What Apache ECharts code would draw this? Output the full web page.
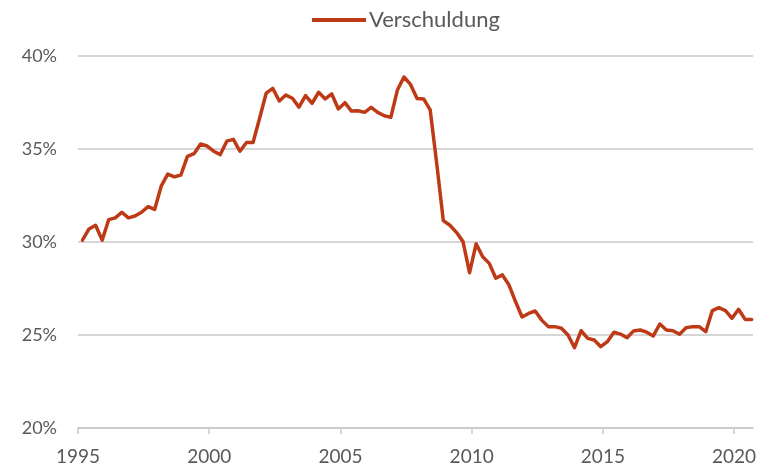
<!DOCTYPE html>
<html>
<head>
<meta charset="utf-8">
<script src="https://cdn.jsdelivr.net/npm/echarts@6/dist/echarts.min.js"></script>
<style>
  html, body { margin: 0; padding: 0; background: #ffffff; }
  #chart { width: 771px; height: 468px; }
</style>
</head>
<body>
<div id="chart"></div>
<script>
// Quarterly observations, 1995 Q1 – 2020 Q3
const quarters = [];
for (let y = 1995; y <= 2020; y++) {
  for (let q = 1; q <= 4; q++) {
    if (y === 2020 && q > 3) break;
    quarters.push(y + 'Q' + q);
  }
}

const seriesName = 'Verschuldung';
const verschuldung = [
  30.10, 30.70, 30.90, 30.10, 31.20, 31.30, 31.60, 31.30, 31.40, 31.60,
  31.90, 31.75, 33.00, 33.65, 33.50, 33.60, 34.60, 34.75, 35.27, 35.16,
  34.88, 34.70, 35.42, 35.52, 34.88, 35.35, 35.35, 36.65, 38.00, 38.26,
  37.58, 37.90, 37.73, 37.25, 37.87, 37.46, 38.05, 37.69, 37.96, 37.15,
  37.49, 37.04, 37.06, 36.97, 37.24, 36.97, 36.79, 36.70, 38.17, 38.87,
  38.47, 37.71, 37.69, 37.10, 34.20, 31.15, 30.90, 30.52, 30.02, 28.35,
  29.90, 29.21, 28.85, 28.05, 28.23, 27.70, 26.80, 25.97, 26.16, 26.29,
  25.80, 25.45, 25.45, 25.36, 25.00, 24.32, 25.23, 24.82, 24.73, 24.37,
  24.64, 25.15, 25.05, 24.85, 25.22, 25.27, 25.15, 24.95, 25.59, 25.27,
  25.23, 25.04, 25.39, 25.45, 25.45, 25.18, 26.31, 26.47, 26.31, 25.90,
  26.38, 25.84, 25.84
];

const xTickYears = [1995, 2000, 2005, 2010, 2015, 2020];

// convert quarter label to a decimal-year position on the time line
function quarterToYear(label) {
  const y = parseInt(label.slice(0, 4), 10);
  const q = parseInt(label.slice(5), 10);
  return y + (q - 1) / 4 + 0.17;
}

const seriesData = quarters.map((lab, i) => [quarterToYear(lab), verschuldung[i]]);

const FONT = 'Lato';
const LABEL_COLOR = '#595959';
const GRID_COLOR = '#C9C9C9';
const LINE_COLOR = '#BE3A17';
const LEGEND_ICON = 'path://M0,0 L54,0 L54,4 L0,4 Z';

const chart = echarts.init(document.getElementById('chart'), null, { renderer: 'canvas' });
chart.setOption({
  animation: false,
  backgroundColor: '#ffffff',
  textStyle: { fontFamily: FONT },
  legend: {
    left: 307,
    top: 4,
    itemWidth: 54,
    itemHeight: 14,
    itemGap: 10,
    textStyle: { fontFamily: FONT, fontSize: 22, color: LABEL_COLOR, padding: [0, 0, 0, -2] },
    data: [{ name: seriesName, icon: LEGEND_ICON }]
  },
  grid: { left: 78, right: 18, top: 56, bottom: 40, containLabel: false },
  xAxis: {
    type: 'value',
    min: 1995,
    max: 2020.72,
    interval: 5,
    axisLine: { show: true, lineStyle: { color: GRID_COLOR, width: 1.5 } },
    axisTick: { show: true, length: 6, lineStyle: { color: GRID_COLOR, width: 1.5 }, customValues: xTickYears },
    axisLabel: {
      customValues: xTickYears,
      fontFamily: FONT, fontSize: 19, color: LABEL_COLOR, margin: 19,
      formatter: v => String(Math.round(v))
    },
    splitLine: { show: false }
  },
  yAxis: {
    type: 'value',
    min: 20,
    max: 40,
    interval: 5,
    axisLine: { show: false },
    axisTick: { show: false },
    axisLabel: { fontFamily: FONT, fontSize: 18, color: LABEL_COLOR, margin: 21, formatter: v => v + '%' },
    splitLine: { show: true, lineStyle: { color: GRID_COLOR, width: 1.5 } }
  },
  series: [{
    name: seriesName,
    type: 'line',
    data: seriesData,
    showSymbol: false,
    symbol: 'none',
    lineStyle: { color: LINE_COLOR, width: 3.5, cap: 'round', join: 'round' },
    itemStyle: { color: LINE_COLOR },
    z: 5
  }]
});
</script>
</body>
</html>
